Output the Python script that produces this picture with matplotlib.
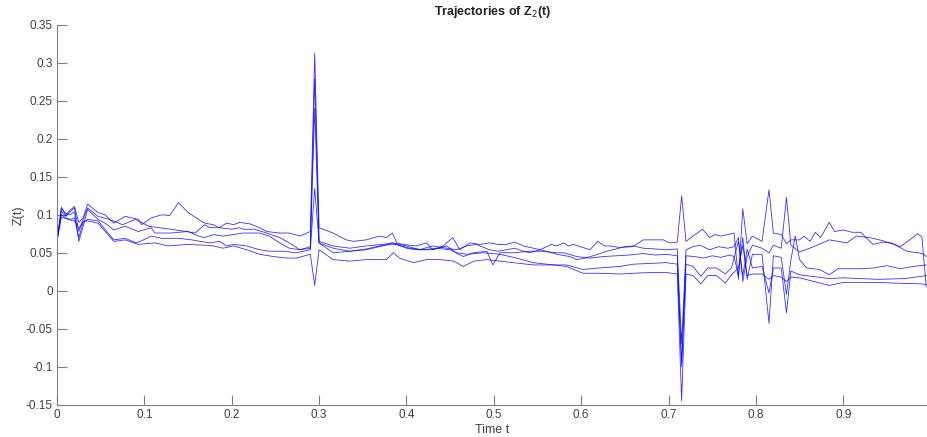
import matplotlib
matplotlib.use("Agg")
import matplotlib.pyplot as plt

# ---------------- data ----------------
tA = [0, 0.005, 0.010, 0.015, 0.020, 0.025, 0.030, 0.035, 0.047, 0.055, 0.065, 0.078, 0.093, 0.097, 0.108,
      0.120, 0.129, 0.139, 0.150, 0.162, 0.169, 0.179, 0.186, 0.194, 0.202, 0.209, 0.221, 0.232, 0.240,
      0.255, 0.266, 0.278, 0.290, 0.295, 0.300, 0.316, 0.331, 0.339, 0.354, 0.369, 0.377, 0.384, 0.389,
      0.396, 0.411, 0.423, 0.430, 0.442, 0.453, 0.461, 0.473, 0.484, 0.495, 0.505, 0.514, 0.524, 0.534,
      0.553, 0.566, 0.572, 0.580, 0.585, 0.591, 0.610, 0.619, 0.627, 0.633, 0.644, 0.659, 0.671, 0.682,
      0.694, 0.701, 0.710, 0.715, 0.720, 0.728, 0.739, 0.747, 0.753, 0.760, 0.768, 0.775, 0.780, 0.785,
      0.790, 0.796, 0.807, 0.815, 0.820, 0.829, 0.835, 0.840, 0.850, 0.855, 0.862, 0.868, 0.874, 0.884,
      0.890, 0.900, 0.910, 0.920, 0.934, 0.945, 0.955, 0.965, 0.975, 0.985, 0.990, 0.995]
zA = [0.065, 0.110, 0.100, 0.106, 0.111, 0.090, 0.096, 0.114, 0.103, 0.100, 0.089, 0.098, 0.094, 0.087, 0.096,
      0.100, 0.099, 0.116, 0.103, 0.094, 0.089, 0.087, 0.083, 0.089, 0.087, 0.090, 0.088, 0.083, 0.078,
      0.076, 0.076, 0.072, 0.078, 0.313, 0.083, 0.076, 0.067, 0.065, 0.067, 0.072, 0.070, 0.076, 0.063,
      0.061, 0.059, 0.063, 0.054, 0.059, 0.070, 0.054, 0.063, 0.061, 0.063, 0.061, 0.061, 0.064, 0.059,
      0.054, 0.061, 0.059, 0.063, 0.059, 0.061, 0.054, 0.065, 0.059, 0.059, 0.057, 0.058, 0.067, 0.067,
      0.067, 0.063, 0.064, 0.125, 0.065, 0.072, 0.081, 0.070, 0.074, 0.072, 0.074, 0.076, 0.015, 0.108,
      0.062, 0.072, 0.065, 0.133, 0.076, 0.074, 0.062, 0.067, 0.067, 0.072, 0.065, 0.077, 0.070, 0.090,
      0.078, 0.080, 0.077, 0.077, 0.061, 0.064, 0.063, 0.058, 0.066, 0.075, 0.071, 0.005]

tB = [0, 0.005, 0.010, 0.015, 0.020, 0.025, 0.030, 0.035, 0.047, 0.060, 0.075, 0.090, 0.105, 0.117, 0.130,
      0.148, 0.158, 0.169, 0.175, 0.186, 0.200, 0.209, 0.213, 0.226, 0.240, 0.255, 0.266, 0.278, 0.290,
      0.295, 0.300, 0.316, 0.335, 0.354, 0.373, 0.384, 0.400, 0.415, 0.430, 0.446, 0.457, 0.469, 0.480,
      0.495, 0.505, 0.524, 0.534, 0.541, 0.553, 0.560, 0.572, 0.587, 0.595, 0.605, 0.619, 0.629, 0.640,
      0.650, 0.660, 0.671, 0.685, 0.697, 0.710, 0.715, 0.720, 0.728, 0.736, 0.747, 0.757, 0.768, 0.775,
      0.780, 0.785, 0.790, 0.796, 0.807, 0.815, 0.820, 0.829, 0.835, 0.840, 0.850, 0.866, 0.884, 0.904,
      0.915, 0.930, 0.945, 0.960, 0.973, 0.991, 0.995]
zB = [0.065, 0.105, 0.098, 0.104, 0.109, 0.078, 0.094, 0.109, 0.098, 0.094, 0.087, 0.094, 0.085, 0.083, 0.081,
      0.078, 0.076, 0.087, 0.083, 0.083, 0.081, 0.083, 0.081, 0.081, 0.076, 0.070, 0.063, 0.054, 0.056,
      0.280, 0.065, 0.059, 0.056, 0.059, 0.061, 0.063, 0.059, 0.054, 0.059, 0.056, 0.054, 0.059, 0.061,
      0.054, 0.052, 0.056, 0.052, 0.050, 0.054, 0.052, 0.048, 0.045, 0.041, 0.043, 0.048, 0.052, 0.055,
      0.058, 0.059, 0.056, 0.055, 0.054, 0.055, -0.070, 0.054, 0.058, 0.060, 0.054, 0.058, 0.056, 0.058,
      0.070, 0.012, 0.045, 0.060, 0.056, 0.050, 0.060, 0.056, 0.123, 0.060, 0.051, 0.058, 0.067, 0.063,
      0.072, 0.070, 0.066, 0.060, 0.052, 0.049, 0.045]

tC = [0, 0.005, 0.010, 0.015, 0.020, 0.025, 0.030, 0.035, 0.047, 0.055, 0.065, 0.078, 0.093, 0.108, 0.112,
      0.130, 0.150, 0.162, 0.169, 0.179, 0.190, 0.202, 0.213, 0.232, 0.243, 0.255, 0.266, 0.278, 0.290,
      0.295, 0.300, 0.316, 0.335, 0.354, 0.373, 0.388, 0.404, 0.419, 0.434, 0.450, 0.465, 0.477, 0.492,
      0.499, 0.507, 0.524, 0.540, 0.555, 0.572, 0.580, 0.595, 0.610, 0.625, 0.640, 0.655, 0.671, 0.685,
      0.697, 0.710, 0.715, 0.720, 0.730, 0.740, 0.750, 0.760, 0.770, 0.775, 0.780, 0.785, 0.790, 0.796,
      0.807, 0.815, 0.820, 0.829, 0.835, 0.840, 0.845, 0.850, 0.858, 0.873, 0.884, 0.894, 0.919, 0.935,
      0.950, 0.965, 0.980, 0.995]
zC = [0.065, 0.108, 0.102, 0.100, 0.104, 0.065, 0.085, 0.107, 0.094, 0.089, 0.080, 0.085, 0.078, 0.083, 0.076,
      0.076, 0.078, 0.072, 0.070, 0.074, 0.072, 0.074, 0.076, 0.076, 0.072, 0.063, 0.056, 0.054, 0.058,
      0.240, 0.063, 0.056, 0.052, 0.055, 0.060, 0.061, 0.056, 0.054, 0.056, 0.054, 0.045, 0.050, 0.052,
      0.034, 0.050, 0.050, 0.052, 0.052, 0.050, 0.050, 0.045, 0.043, 0.045, 0.046, 0.047, 0.049, 0.047,
      0.048, 0.046, -0.100, 0.046, 0.045, 0.043, 0.046, 0.044, 0.047, 0.045, 0.020, 0.070, 0.015, 0.048,
      0.048, -0.043, 0.046, 0.044, -0.005, 0.040, 0.072, 0.041, 0.030, 0.028, 0.021, 0.029, 0.029, 0.030,
      0.033, 0.029, 0.032, 0.034]

tD = [0, 0.005, 0.010, 0.015, 0.020, 0.025, 0.030, 0.035, 0.047, 0.065, 0.078, 0.091, 0.099, 0.108, 0.120,
      0.139, 0.154, 0.164, 0.175, 0.186, 0.194, 0.202, 0.217, 0.232, 0.243, 0.259, 0.274, 0.290, 0.295,
      0.300, 0.316, 0.335, 0.354, 0.373, 0.384, 0.400, 0.411, 0.430, 0.446, 0.457, 0.469, 0.488, 0.507,
      0.526, 0.545, 0.568, 0.583, 0.602, 0.621, 0.644, 0.660, 0.680, 0.697, 0.710, 0.715, 0.720, 0.728,
      0.737, 0.745, 0.755, 0.765, 0.772, 0.780, 0.785, 0.790, 0.796, 0.807, 0.815, 0.820, 0.829, 0.835,
      0.840, 0.850, 0.884, 0.900, 0.940, 0.970, 0.990, 0.995]
zD = [0.065, 0.100, 0.096, 0.094, 0.096, 0.070, 0.090, 0.094, 0.092, 0.067, 0.069, 0.063, 0.067, 0.072, 0.069,
      0.069, 0.067, 0.065, 0.063, 0.065, 0.059, 0.061, 0.059, 0.054, 0.052, 0.052, 0.050, 0.054, 0.135,
      0.063, 0.050, 0.052, 0.054, 0.059, 0.063, 0.056, 0.054, 0.054, 0.059, 0.050, 0.048, 0.050, 0.048,
      0.043, 0.037, 0.034, 0.034, 0.028, 0.030, 0.032, 0.035, 0.036, 0.037, 0.035, -0.095, 0.035, 0.032,
      0.019, 0.030, 0.030, 0.022, 0.030, 0.065, 0.020, 0.055, 0.030, 0.032, -0.003, 0.030, 0.030, -0.029,
      0.026, 0.021, 0.016, 0.017, 0.015, 0.016, 0.019, 0.020]

tE = [0, 0.005, 0.010, 0.015, 0.020, 0.025, 0.030, 0.035, 0.047, 0.065, 0.078, 0.093, 0.112, 0.127, 0.150,
      0.169, 0.179, 0.190, 0.202, 0.217, 0.232, 0.248, 0.263, 0.274, 0.290, 0.295, 0.300, 0.316, 0.335,
      0.354, 0.377, 0.385, 0.392, 0.408, 0.423, 0.438, 0.454, 0.465, 0.477, 0.492, 0.507, 0.522, 0.545,
      0.568, 0.583, 0.602, 0.621, 0.644, 0.660, 0.680, 0.697, 0.710, 0.715, 0.720, 0.728, 0.737, 0.745,
      0.755, 0.765, 0.772, 0.780, 0.785, 0.790, 0.796, 0.807, 0.815, 0.820, 0.829, 0.835, 0.840, 0.850,
      0.884, 0.900, 0.940, 0.960, 0.990, 0.995]
zE = [0.065, 0.097, 0.095, 0.093, 0.092, 0.082, 0.091, 0.092, 0.089, 0.065, 0.067, 0.061, 0.063, 0.059, 0.061,
      0.060, 0.059, 0.056, 0.059, 0.054, 0.048, 0.045, 0.043, 0.043, 0.048, 0.007, 0.054, 0.041, 0.039,
      0.041, 0.041, 0.050, 0.043, 0.037, 0.041, 0.041, 0.039, 0.032, 0.039, 0.041, 0.039, 0.037, 0.034,
      0.034, 0.032, 0.023, 0.023, 0.022, 0.023, 0.024, 0.024, 0.022, -0.145, 0.022, 0.020, 0.009, 0.020,
      0.020, 0.010, 0.021, 0.030, 0.060, 0.020, 0.022, 0.022, 0.015, 0.020, 0.018, 0.012, 0.018, 0.017,
      0.007, 0.011, 0.011, 0.010, 0.009, 0.008]

series = [(tA, zA), (tB, zB), (tC, zC), (tD, zD), (tE, zE)]

xticks = [0, 0.1, 0.2, 0.3, 0.4, 0.5, 0.6, 0.7, 0.8, 0.9]
yticks = [-0.15, -0.1, -0.05, 0, 0.05, 0.1, 0.15, 0.2, 0.25, 0.3, 0.35]
yticklabels = ["-0.15", "-0.1", "-0.05", "0", "0.05", "0.1", "0.15", "0.2", "0.25", "0.3", "0.35"]
xticklabels = ["0", "0.1", "0.2", "0.3", "0.4", "0.5", "0.6", "0.7", "0.8", "0.9"]

# ---------------- figure ----------------
plt.rcParams['font.family'] = ['Liberation Sans', 'DejaVu Sans']
fig = plt.figure(figsize=(9.28, 4.37), dpi=100)
ax = fig.add_axes([0.0614, 0.0741, 0.9386, 0.8687])

for t, z in series:
    ax.plot(t, z, color=(0.0, 0.0, 1.0), lw=0.6, alpha=0.8)

ax.set_xlim(0, 0.997)
ax.set_ylim(-0.15, 0.35)
ax.set_xticks(xticks)
ax.set_xticklabels(xticklabels)
ax.set_yticks(yticks)
ax.set_yticklabels(yticklabels)

grey = '#404040'
for s in ['top', 'right']:
    ax.spines[s].set_visible(False)
for s in ['left', 'bottom']:
    ax.spines[s].set_color('#808080')
    ax.spines[s].set_linewidth(0.8)
ax.tick_params(direction='in', length=7, width=0.8, color='#808080',
               labelsize=8.5, labelcolor=grey, pad=3)

ax.set_xlabel('Time t', fontsize=9, color=grey, labelpad=2)
ax.set_ylabel('Z(t)', fontsize=9, color=grey, labelpad=1)
ax.set_title('Trajectories of Z$_2$(t)', fontsize=9, fontweight='bold', color='#222222', pad=7)

fig.savefig('out.png', dpi=100)
